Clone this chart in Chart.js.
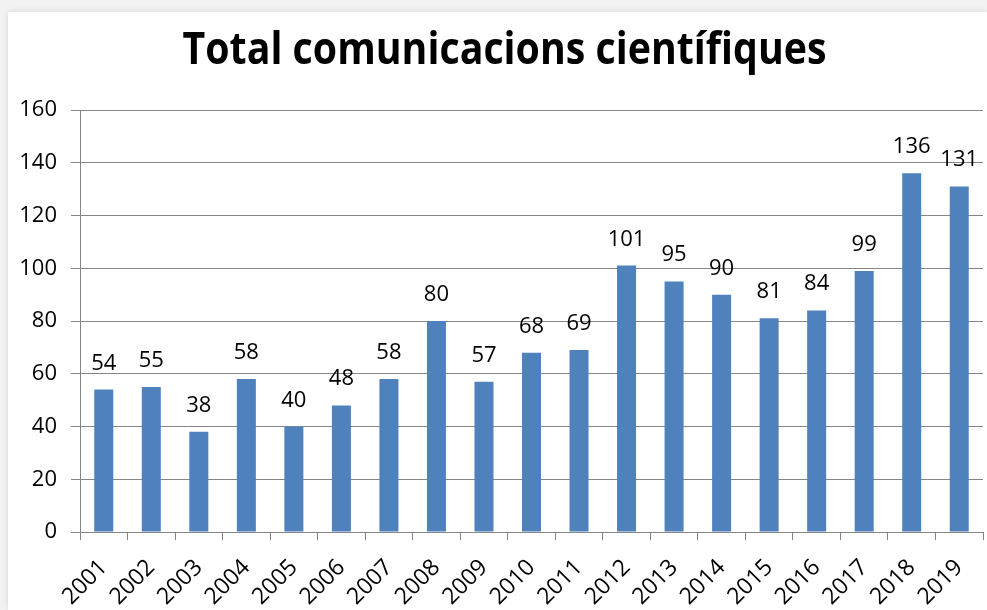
<!DOCTYPE html>
<html>
<head>
<meta charset="utf-8">
<script src="https://cdn.jsdelivr.net/npm/chart.js@4"></script>
<style>
  html, body { margin: 0; height: 100%; background: #f2f2f2; overflow: hidden; }
  #card { position: absolute; left: 8px; top: 12px; right: 0; bottom: 0; background: #fff; box-shadow: 0 0 6px rgba(0,0,0,0.12); }
</style>
</head>
<body>
<div id="card"><canvas id="chart"></canvas></div>
<script>
const titleText = 'Total comunicacions científiques';
const years = ['2001', '2002', '2003', '2004', '2005', '2006', '2007', '2008', '2009', '2010',
  '2011', '2012', '2013', '2014', '2015', '2016', '2017', '2018', '2019'];
const totals = [54, 55, 38, 58, 40, 48, 58, 80, 57, 68, 69, 101, 95, 90, 81, 84, 99, 136, 131];

const axisGray = '#868686';
const font = '"Open Sans", "Noto Sans", sans-serif';

// value labels above each bar
const barLabels = {
  id: 'barLabels',
  afterDatasetsDraw(chart) {
    const ctx = chart.ctx;
    const meta = chart.getDatasetMeta(0);
    ctx.save();
    ctx.font = '22px ' + font;
    ctx.fillStyle = '#000';
    ctx.textAlign = 'center';
    ctx.textBaseline = 'alphabetic';
    meta.data.forEach((bar, i) => {
      ctx.fillText(String(totals[i]), bar.x, bar.y - 20);
    });
    ctx.restore();
  }
};

// title drawn a bit condensed, like the narrow bold face of the original
const condensedTitle = {
  id: 'condensedTitle',
  afterDraw(chart) {
    const ctx = chart.ctx;
    ctx.save();
    ctx.font = 'bold 45px ' + font;
    ctx.fillStyle = '#000';
    ctx.textAlign = 'center';
    ctx.textBaseline = 'alphabetic';
    const w = ctx.measureText(titleText).width;
    ctx.translate(chart.width / 2 + 7, 52);
    ctx.scale(644 / w, 1);
    ctx.fillText(titleText, 0, 0);
    ctx.restore();
  }
};

new Chart(document.getElementById('chart'), {
  type: 'bar',
  data: {
    labels: years,
    datasets: [{
      label: 'Total',
      data: totals,
      backgroundColor: '#4f81bd',
      barPercentage: 0.4,
      categoryPercentage: 1
    }]
  },
  options: {
    responsive: true,
    maintainAspectRatio: false,
    animation: false,
    layout: { padding: { left: 0, right: 4, top: 98, bottom: 0 } },
    plugins: {
      legend: { display: false },
      tooltip: { enabled: false },
      title: { display: false }
    },
    scales: {
      x: {
        grid: { offset: true, drawOnChartArea: false, color: axisGray, tickLength: 8 },
        border: { color: axisGray },
        ticks: { color: '#000', font: { family: font, size: 23 }, minRotation: 45, maxRotation: 45, padding: 14 },
        afterFit(scale) {
          scale.height = 78;
          scale.paddingLeft = 0;
          scale.paddingRight = 0;
        }
      },
      y: {
        min: 0,
        max: 160,
        ticks: { stepSize: 20, color: '#000', font: { family: font, size: 22 }, padding: 14 },
        grid: { color: axisGray, tickLength: 9 },
        border: { color: axisGray },
        afterFit(scale) { scale.width = 72; }
      }
    }
  },
  plugins: [barLabels, condensedTitle]
});
</script>
</body>
</html>
